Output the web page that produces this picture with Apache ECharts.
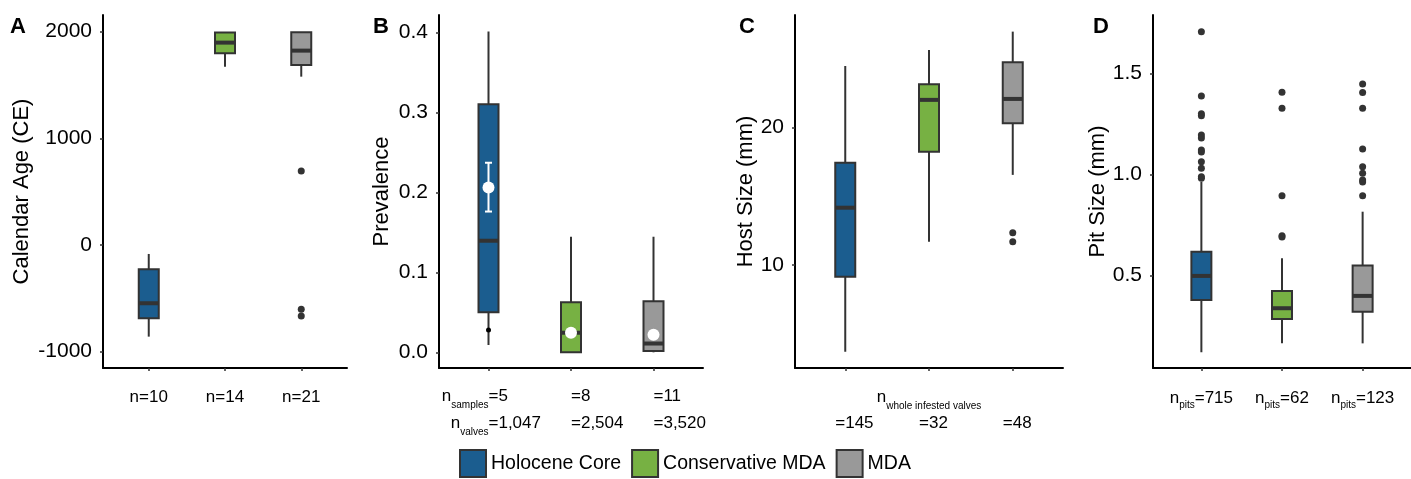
<!DOCTYPE html>
<html>
<head>
<meta charset="utf-8">
<title>Boxplots</title>
<script src="https://cdn.jsdelivr.net/npm/echarts@6/dist/echarts.min.js"></script>
<style>
  html, body { margin: 0; padding: 0; background: #fff; }
  #main { width: 1411px; height: 479px; }
</style>
</head>
<body>
<div id="main"></div>
<script>
// groups and shared ticks
var groups = ['Holocene Core', 'Conservative MDA', 'MDA'];
var xTicks = [1, 2, 3];

// A: calendar age, [min, q1, median, q3, max]
var ageBoxes = [[-859, -687, -546, -228, -84], [1672, 1797, 1897, 1992, 1996], [1578, 1688, 1822, 1994, 1996]];
var ageOutliers = [[], [], [694, -603, -665]];
var ageTicks = [-1000, 0, 1000, 2000];
var ageLabels = ['n=10', 'n=14', 'n=21'];

// B: prevalence
var prevBoxes = [[0.009, 0.05, 0.1395, 0.31, 0.401], [0, 0, 0.0245, 0.0625, 0.1445], [0, 0.0016, 0.011, 0.064, 0.1445]];
var prevPoints = [[0.028], [], []];
var prevMeans = [0.206, 0.0245, 0.022];
var prevLow = [0.176, 0.0245, 0.022];
var prevHigh = [0.237, 0.0245, 0.022];
var prevTicks = [0, 0.1, 0.2, 0.3, 0.4];
var nSamples = ['=5', '=8', '=11'];
var nValves = ['=1,047', '=2,504', '=3,520'];

// C: host size
var hostBoxes = [[3.69, 9.15, 14.17, 17.45, 24.49], [11.7, 18.25, 22.02, 23.16, 25.66], [16.56, 20.32, 22.09, 24.76, 26.99]];
var hostOutliers = [[], [], [12.35, 11.7]];
var hostTicks = [10, 20];
var nWhole = ['=145', '=32', '=48'];

// D: pit size
var pitBoxes = [[0.119, 0.378, 0.497, 0.617, 0.963], [0.163, 0.284, 0.337, 0.422, 0.584], [0.163, 0.32, 0.398, 0.548, 0.815]];
var pitOutliers = [
  [1.706, 1.388, 1.300, 1.290, 1.195, 1.180, 1.120, 1.110, 1.062, 1.030, 0.988, 0.980],
  [1.407, 1.327, 0.894, 0.696, 0.690],
  [1.447, 1.405, 1.327, 1.125, 1.038, 1.005, 0.972, 0.962, 0.894]
];
var pitTicks = [0.5, 1.0, 1.5];
var nPits = ['=715', '=62', '=123'];

var colors = ['#1b5d8f', '#77b143', '#999999'];
var font = "'Liberation Sans', Arial, sans-serif";
var ink = '#333333';

var chart = echarts.init(document.getElementById('main'));

var grids = [
  {left: 103, top: 15, width: 244, height: 353},
  {left: 439, top: 15, width: 264, height: 353},
  {left: 795, top: 15, width: 268, height: 353},
  {left: 1153, top: 15, width: 258, height: 353}
];

var subRich = {
  n: {fontSize: 17, fontFamily: font, color: '#000'},
  s: {fontSize: 10, fontFamily: font, color: '#000', verticalAlign: 'bottom', lineHeight: 10},
  v: {fontSize: 17, fontFamily: font, color: '#000'}
};

function xAxis(i, label) {
  return {
    type: 'value', gridIndex: i, min: 0.4, max: 3.6,
    axisLine: {show: true, onZero: false, lineStyle: {color: '#000', width: 2}},
    axisTick: {show: true, customValues: xTicks, length: 3, lineStyle: {color: ink, width: 1.5}},
    splitLine: {show: false},
    axisLabel: Object.assign({customValues: xTicks, fontSize: 17, fontFamily: font, color: '#000'}, label)
  };
}

function yAxis(i, min, max, ticks, name, gap, digits) {
  return {
    type: 'value', gridIndex: i, min: min, max: max,
    name: name, nameLocation: 'middle', nameGap: gap,
    nameTextStyle: {fontSize: 22, fontFamily: font, color: '#000'},
    axisLine: {show: true, onZero: false, lineStyle: {color: '#000', width: 2}},
    axisTick: {show: true, customValues: ticks, length: 3, lineStyle: {color: ink, width: 1.5}},
    splitLine: {show: false},
    axisLabel: {
      customValues: ticks, fontSize: 21, fontFamily: font, color: '#000', margin: 11,
      formatter: function (v) { return digits == null ? String(Math.round(v)) : v.toFixed(digits); }
    }
  };
}

function pick(arr) { return function (v) { return arr[Math.round(v) - 1]; }; }

var xAxes = [
  xAxis(0, {margin: 19, lineHeight: 20, formatter: pick(ageLabels)}),
  xAxis(1, {margin: 15, lineHeight: 27, align: 'left', rich: subRich,
    formatter: function (v) { var k = Math.round(v) - 1; return '{v|' + nSamples[k] + '}\n{v|' + nValves[k] + '}'; }}),
  Object.assign(xAxis(2, {margin: 45, lineHeight: 20, align: 'center',
    rich: {w: {width: 20, align: 'left', fontSize: 17, fontFamily: font, color: '#000'}},
    formatter: function (v) { return '{w|' + nWhole[Math.round(v) - 1] + '}'; }}), {
    name: '{n|n}{s|whole infested valves}', nameLocation: 'middle', nameGap: 16,
    nameMoveOverlap: false,
    nameTextStyle: {lineHeight: 27, verticalAlign: 'top', rich: subRich}
  }),
  xAxis(3, {margin: 18, lineHeight: 24, rich: subRich,
    formatter: function (v) { return '{n|n}{s|pits}{v|' + nPits[Math.round(v) - 1] + '}'; }})
];

var yAxes = [
  yAxis(0, -1153, 2156, ageTicks, 'Calendar Age (CE)', 70, null),
  yAxis(1, -0.0196, 0.4217, prevTicks, 'Prevalence', 46, 1),
  yAxis(2, 2.5, 28.2, hostTicks, 'Host Size (mm)', 37, null),
  yAxis(3, 0.041, 1.789, pitTicks, 'Pit Size (mm)', 40, 1)
];

function renderBox(params, api) {
  var x = api.value(0);
  var lo = api.coord([x, api.value(1)]);
  var q1 = api.coord([x, api.value(2)]);
  var md = api.coord([x, api.value(3)]);
  var q3 = api.coord([x, api.value(4)]);
  var hi = api.coord([x, api.value(5)]);
  var half = 10;
  return {
    type: 'group',
    children: [
      {type: 'line', shape: {x1: lo[0], y1: lo[1], x2: hi[0], y2: hi[1]}, style: {stroke: ink, lineWidth: 2}},
      {type: 'rect', shape: {x: q3[0] - half, y: q3[1], width: half * 2, height: q1[1] - q3[1]},
        style: {fill: api.visual('color'), stroke: ink, lineWidth: 2}},
      {type: 'line', shape: {x1: md[0] - half, y1: md[1], x2: md[0] + half, y2: md[1]}, style: {stroke: ink, lineWidth: 4}}
    ]
  };
}

function renderBar(params, api) {
  var x = api.value(0);
  var lo = api.coord([x, api.value(1)]);
  var hi = api.coord([x, api.value(2)]);
  var c = 3.5;
  var st = {stroke: '#fff', lineWidth: 2};
  return {
    type: 'group',
    children: [
      {type: 'line', shape: {x1: lo[0], y1: lo[1], x2: hi[0], y2: hi[1]}, style: st},
      {type: 'line', shape: {x1: lo[0] - c, y1: lo[1], x2: lo[0] + c, y2: lo[1]}, style: st},
      {type: 'line', shape: {x1: hi[0] - c, y1: hi[1], x2: hi[0] + c, y2: hi[1]}, style: st}
    ]
  };
}

var series = [];
var panels = [
  {boxes: ageBoxes, outliers: ageOutliers},
  {boxes: prevBoxes, outliers: prevPoints},
  {boxes: hostBoxes, outliers: hostOutliers},
  {boxes: pitBoxes, outliers: pitOutliers}
];

panels.forEach(function (p, i) {
  groups.forEach(function (g, k) {
    series.push({
      type: 'custom', name: g, xAxisIndex: i, yAxisIndex: i,
      itemStyle: {color: colors[k], borderColor: ink, borderWidth: 2},
      encode: {x: 0, y: [1, 2, 3, 4, 5]},
      renderItem: renderBox,
      data: [[k + 1].concat(p.boxes[k])],
      z: 2
    });
  });
  var pts = [];
  p.outliers.forEach(function (list, k) {
    list.forEach(function (v) { pts.push([k + 1, v]); });
  });
  series.push({
    type: 'scatter', name: 'points' + i, xAxisIndex: i, yAxisIndex: i,
    symbolSize: i === 1 ? 5 : 7,
    itemStyle: {color: i === 1 ? '#000' : ink, opacity: 1},
    data: pts, z: 3
  });
});

// prevalence means with error bars
series.push({
  type: 'custom', name: 'ci', xAxisIndex: 1, yAxisIndex: 1,
  encode: {x: 0, y: [1, 2]},
  renderItem: renderBar,
  data: groups.map(function (g, k) { return [k + 1, prevLow[k], prevHigh[k]]; }),
  z: 4
});
series.push({
  type: 'scatter', name: 'mean', xAxisIndex: 1, yAxisIndex: 1,
  symbolSize: 12,
  itemStyle: {color: '#fff', opacity: 1},
  data: groups.map(function (g, k) { return [k + 1, prevMeans[k]]; }),
  z: 5
});

var letters = ['A', 'B', 'C', 'D'];
var letterX = [10, 373, 739, 1093];

chart.setOption({
  animation: false,
  backgroundColor: '#fff',
  grid: grids,
  xAxis: xAxes,
  yAxis: yAxes,
  series: series,
  legend: {
    data: groups, left: 459, top: 449, padding: 0,
    icon: 'rect', itemWidth: 26, itemHeight: 27, itemGap: 10,
    selectedMode: false,
    itemStyle: {borderColor: ink, borderWidth: 2},
    textStyle: {fontSize: 19.5, fontFamily: font, color: '#000'}
  },
  graphic: letters.map(function (t, i) {
    return {
      type: 'text', left: letterX[i], top: 16,
      style: {text: t, fontSize: 22, fontWeight: 'bold', fontFamily: font, fill: '#000'}
    };
  })
});

// subscript prefixes of panel B, placed at the first tick
var px = chart.convertToPixel({xAxisIndex: 1}, 1);
chart.setOption({
  graphic: letters.map(function () { return {}; }).concat([{
    type: 'text', x: px, y: 368 + 15,
    style: {
      text: '{n|n}{s|samples}\n{n|n}{s|valves}', align: 'right', verticalAlign: 'top',
      lineHeight: 27, rich: subRich
    }
  }])
});
</script>
</body>
</html>
